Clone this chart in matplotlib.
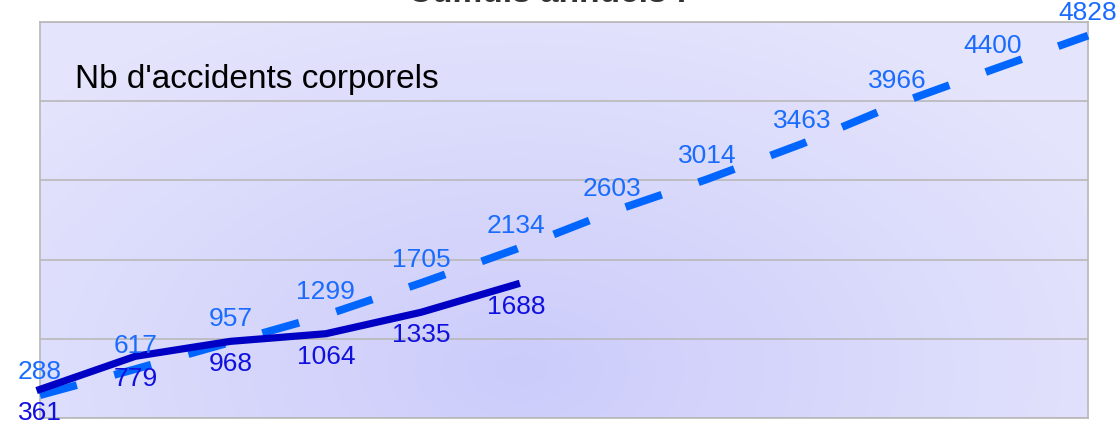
import numpy as np
import matplotlib
matplotlib.use("Agg")
from matplotlib import pyplot as plt

plt.rcParams['font.family'] = ['Liberation Sans', 'DejaVu Sans']
plt.rcParams['lines.scale_dashes'] = False

# cumulative values per year
cumul_total = [288, 617, 957, 1299, 1705, 2134, 2603, 3014, 3463, 3966, 4400, 4828]
cumul_current = [361, 779, 968, 1064, 1335, 1688]
y_max = 5000
y_step = 1000

c_dash = '#0066ff'
c_solid = '#0000c4'
c_lab_dash = '#1a6cff'
c_lab_solid = '#1010e0'

W, H = 1118, 421
fig = plt.figure(figsize=(W / 100, H / 100), dpi=100)
ax = fig.add_axes([40 / W, 3 / H, 1048 / W, 396 / H])

x_total = np.arange(len(cumul_total))
x_current = np.arange(len(cumul_current))

# radial gradient background
gx, gy = np.meshgrid(np.linspace(0, 1, 400), np.linspace(0, 1, 200))
r = np.sqrt(((gx - 0.46) * 1.6) ** 2 + (gy - 0.12) ** 2)
r = np.clip(r / 1.0, 0, 1)
c_in = np.array([0.80, 0.80, 0.985])
c_out = np.array([0.895, 0.895, 0.99])
img = c_in[None, None, :] * (1 - r[..., None]) + c_out[None, None, :] * r[..., None]
ax.imshow(img, extent=[0, len(cumul_total) - 1, 0, y_max], origin='lower',
          aspect='auto', zorder=0)

ax.set_xlim(0, len(cumul_total) - 1)
ax.set_ylim(0, y_max)
ax.set_yticks(np.arange(0, y_max + 1, y_step))
ax.set_xticks([])
ax.tick_params(axis='y', length=0, labelleft=False)
ax.grid(axis='y', color='#b8b8b8', linewidth=1.2, zorder=1)
for s in ax.spines.values():
    s.set_color('#b8b8b8')
    s.set_linewidth(1.2)

ax.plot(x_total, cumul_total, color=c_dash, linewidth=5.6,
        dashes=(27.5, 27.9), solid_capstyle='butt', dash_capstyle='butt',
        clip_on=False, zorder=3)
ax.plot(x_current, cumul_current, color=c_solid, linewidth=5.2,
        solid_joinstyle='round', clip_on=False, zorder=4)

for xi, v in zip(x_total, cumul_total):
    ax.annotate(str(v), (xi, v), xytext=(0, 8), textcoords='offset points',
                ha='center', va='bottom', fontsize=19, color=c_lab_dash,
                annotation_clip=False, zorder=5)
for xi, v in zip(x_current, cumul_current):
    ax.annotate(str(v), (xi, v), xytext=(0, -8), textcoords='offset points',
                ha='center', va='top', fontsize=19, color=c_lab_solid,
                annotation_clip=False, zorder=5)

ax.text(35 / 1048, 1 - 66 / 396, "Nb d'accidents corporels", transform=ax.transAxes,
        fontsize=24, color='black', va='baseline', ha='left', zorder=5)

fig.text(548 / W, 1 - 1.5 / H, "Cumuls annuels :", ha='center', va='baseline',
         fontsize=24, fontweight='bold', color='#333333')

fig.savefig('out.png', dpi=100)
